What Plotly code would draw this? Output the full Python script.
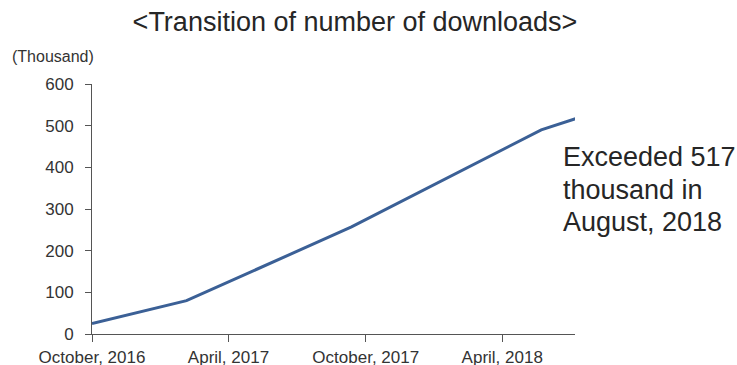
import plotly.graph_objects as go

# Cumulative downloads (thousands)
dates = ["2016-10-01", "2017-02-04", "2017-09-12", "2018-05-23", "2018-07-08"]
downloads = [25, 80, 257, 490, 517]

tick_dates = ["2016-10-01", "2017-04-01", "2017-10-01", "2018-04-01"]
tick_labels = ["October, 2016", "April, 2017", "October, 2017", "April, 2018"]
y_ticks = [0, 100, 200, 300, 400, 500, 600]

note_lines = ["Exceeded 517", "thousand in", "August, 2018"]

FONT = "Liberation Sans, Arial, sans-serif"
TEXT = "#333333"
AXIS = "#555555"

# plot area geometry in pixels (for placing paper-referenced labels)
PW, PH = 483, 250

fig = go.Figure()
fig.add_trace(go.Scatter(
    x=dates, y=downloads, mode="lines",
    line=dict(color="#3b6096", width=3),
    hoverinfo="x+y",
))

annotations = [
    dict(text="(Thousand)", xref="paper", yref="paper",
         x=-82 / PW, y=1 + 27 / PH, xanchor="left", yanchor="middle",
         showarrow=False, font=dict(size=16, color=TEXT)),
]
for i, line in enumerate(note_lines):
    annotations.append(dict(
        text=line, xref="paper", yref="paper",
        x=1 + (561 - 575) / PW, y=(334 - 157 - 32.5 * i) / PH,
        xanchor="left", yanchor="middle", align="left",
        showarrow=False, font=dict(size=27, color="#262626"),
    ))

fig.update_layout(
    width=737, height=365,
    margin=dict(l=92, r=162, t=84, b=31, autoexpand=False),
    paper_bgcolor="white", plot_bgcolor="white",
    showlegend=False,
    font=dict(family=FONT, color=TEXT, size=17),
    title=dict(
        text="&lt;Transition of number of downloads&gt;",
        x=355 / 737, xanchor="center", y=1 - 22 / 365, yanchor="middle",
        font=dict(size=27, color="#262626", family=FONT),
        automargin=False,
    ),
    xaxis=dict(
        type="date",
        range=["2016-10-01", "2018-07-07"],
        tickvals=tick_dates, ticktext=tick_labels,
        showgrid=False, zeroline=False,
        showline=True, linecolor=AXIS, linewidth=1,
        ticks="outside", ticklen=7, tickcolor=AXIS,
        tickfont=dict(size=17, color=TEXT),
        ticklabelstandoff=1,
        automargin=False,
    ),
    yaxis=dict(
        range=[0, 600], tickvals=y_ticks,
        showgrid=False, zeroline=False,
        showline=True, linecolor=AXIS, linewidth=1,
        ticks="outside", ticklen=6, tickcolor=AXIS,
        tickfont=dict(size=17, color=TEXT),
        ticklabelstandoff=8,
        automargin=False,
    ),
    annotations=annotations,
)

fig.write_html("out.html")
